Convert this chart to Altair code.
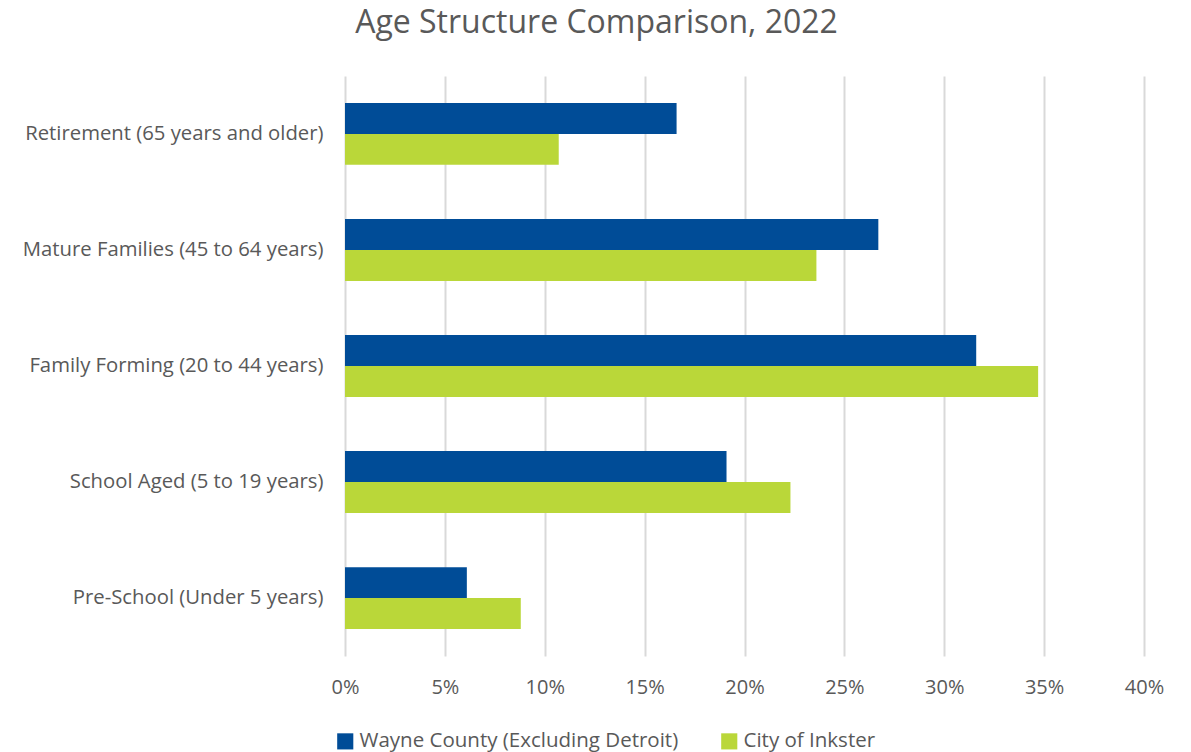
import altair as alt
import pandas as pd

categories = [
    "Retirement (65 years and older)",
    "Mature Families (45 to 64 years)",
    "Family Forming (20 to 44 years)",
    "School Aged (5 to 19 years)",
    "Pre-School (Under 5 years)",
]
series = ["Wayne County (Excluding Detroit)", "City of Inkster"]
wayne = [0.166, 0.267, 0.316, 0.191, 0.061]
inkster = [0.107, 0.236, 0.347, 0.223, 0.088]
colors = ["#004C97", "#BAD739"]
ticks = [0, 0.05, 0.10, 0.15, 0.20, 0.25, 0.30, 0.35, 0.40]

rows = []
for c, w, i in zip(categories, wayne, inkster):
    rows.append({"cat": c, "series": series[0], "value": w})
    rows.append({"cat": c, "series": series[1], "value": i})
df = pd.DataFrame(rows)

FONT = "Open Sans"
GRAY = "#595959"

chart = (
    alt.Chart(df)
    .mark_bar()
    .encode(
        x=alt.X(
            "value:Q",
            scale=alt.Scale(domain=[0, 0.4], nice=False),
            axis=alt.Axis(
                values=ticks,
                format=".0%",
                title=None,
                grid=True,
                gridColor="#D9D9D9",
                gridWidth=2,
                domain=False,
                ticks=False,
                labelFontSize=20,
                labelColor=GRAY,
                labelFont=FONT,
                labelPadding=21,
                labelFlush=False,
            ),
        ),
        y=alt.Y(
            "cat:N",
            sort=categories,
            scale=alt.Scale(paddingInner=0.467, paddingOuter=0.233),
            axis=alt.Axis(
                title=None,
                domain=False,
                ticks=False,
                labelFontSize=20.3,
                labelColor=GRAY,
                labelFont=FONT,
                labelPadding=22,
                labelLimit=400,
            ),
        ),
        yOffset=alt.YOffset("series:N", sort=series, scale=alt.Scale(paddingInner=0.0)),
        color=alt.Color(
            "series:N",
            sort=series,
            scale=alt.Scale(domain=series, range=colors),
            legend=alt.Legend(
                title=None,
                orient="none",
                direction="horizontal",
                legendX=-10,
                legendY=655,
                symbolType="square",
                symbolSize=260,
                symbolStrokeWidth=0,
                labelFontSize=20.5,
                labelColor=GRAY,
                labelFont=FONT,
                labelOffset=4,
                columnPadding=40,
                labelLimit=500,
            ),
        ),
    )
    .properties(
        width=799,
        height=580,
        title=alt.TitleParams(
            "Age Structure Comparison, 2022",
            fontSize=32,
            font=FONT,
            fontWeight="normal",
            color=GRAY,
            anchor="middle",
            dx=-148,
            offset=36,
        ),
        padding={"left": 345, "top": 76, "right": 47, "bottom": 96},
        autosize=alt.AutoSizeParams(type="none"),
    )
    .configure_view(stroke=None)
)

chart.save("out.html", embed_options={"renderer": "svg", "actions": False})
